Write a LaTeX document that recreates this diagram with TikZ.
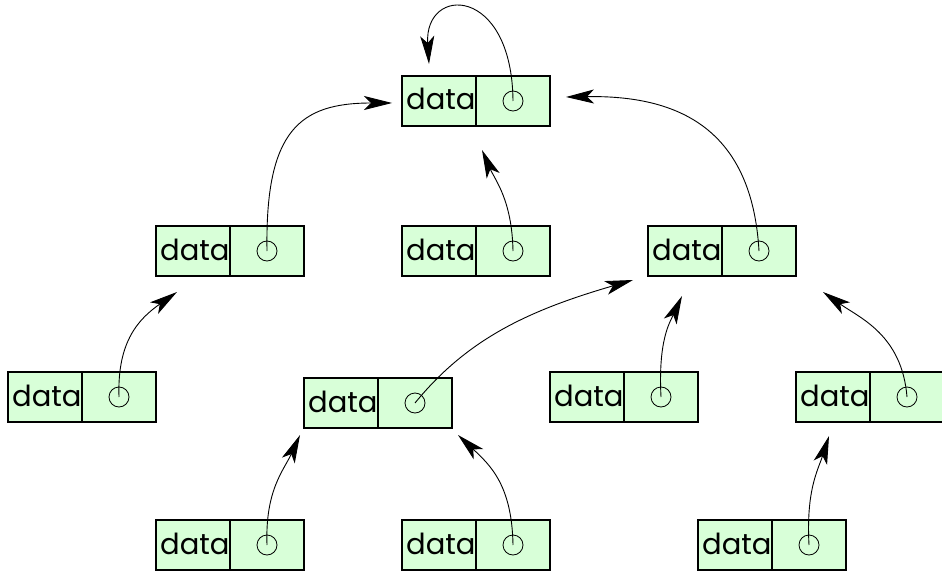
\documentclass[tikz,border=0pt]{standalone}
\usepackage{fontspec}
\setmainfont{Poppins}
\usetikzlibrary{arrows.meta}
\definecolor{cellgreen}{RGB}{216,255,216}
\tikzset{
  cell/.style={draw=black, fill=cellgreen, line width=1.3pt, minimum width=74pt, minimum height=50pt, inner sep=0pt, outer sep=0pt},
  datatext/.style={inner sep=0pt, font=\fontsize{29}{29}\selectfont},
  ptr/.style={draw=black, circle, line width=0.8pt, minimum size=20pt, inner sep=0pt},
  link/.style={line width=0.9pt, -{Stealth[length=28pt, width=14pt, inset=7pt]}}
}
\newcommand{\listcell}[3]{% name, left x, top y
  \node[cell] (#1-d) at (#2+37, #3+25) {};
  \node[cell] (#1-p) at (#2+111, #3+25) {};
  \node[datatext, anchor=base west] (#1-t) at (#2+4, #3+34) {data};
  \node[ptr] (#1-c) at (#1-p.center) {};
}
\begin{document}
\begin{tikzpicture}[x=1pt, y=-1pt]
\useasboundingbox (0,0) rectangle (942,572);
\begin{scope}
\clip (0,0) rectangle (942,572);
\listcell{r}{402}{76}
\listcell{a}{156}{226}
\listcell{b}{402}{226}
\listcell{c}{648}{226}
\listcell{d}{8}{372}
\listcell{e}{304}{378}
\listcell{f}{550}{372}
\listcell{g}{796}{372}
\listcell{h}{156}{520}
\listcell{i}{402}{520}
\listcell{j}{698}{520}
\end{scope}
% arrow tips
\coordinate (tr) at (429,64);
\coordinate (ta) at (392,103);
\coordinate (tb) at (482,150);
\coordinate (tc) at (566,97);
\coordinate (td) at (177,292);
\coordinate (te) at (633,280);
\coordinate (tf) at (682,296);
\coordinate (tg) at (823,292);
\coordinate (th) at (300,435);
\coordinate (ti) at (458,435);
\coordinate (tj) at (829,436);
\draw[link] (r-c.center) .. controls (512,-15) and (424,-15) .. (tr);
\draw[link] (a-c.center) .. controls (265,130) and (300,103) .. (ta);
\draw[link] (b-c.center) .. controls (512,200) and (495,180) .. (tb);
\draw[link] (c-c.center) .. controls (752,130) and (680,95) .. (tc);
\draw[link] (d-c.center) .. controls (117,340) and (140,318) .. (td);
\draw[link] (e-c.center) .. controls (468,338) and (530,310) .. (te);
\draw[link] (f-c.center) .. controls (658,340) and (670,322) .. (tf);
\draw[link] (g-c.center) .. controls (902,335) and (860,318) .. (tg);
\draw[link] (h-c.center) .. controls (265,490) and (284,470) .. (th);
\draw[link] (i-c.center) .. controls (512,485) and (490,465) .. (ti);
\draw[link] (j-c.center) .. controls (806,490) and (818,470) .. (tj);
\end{tikzpicture}
\end{document}
